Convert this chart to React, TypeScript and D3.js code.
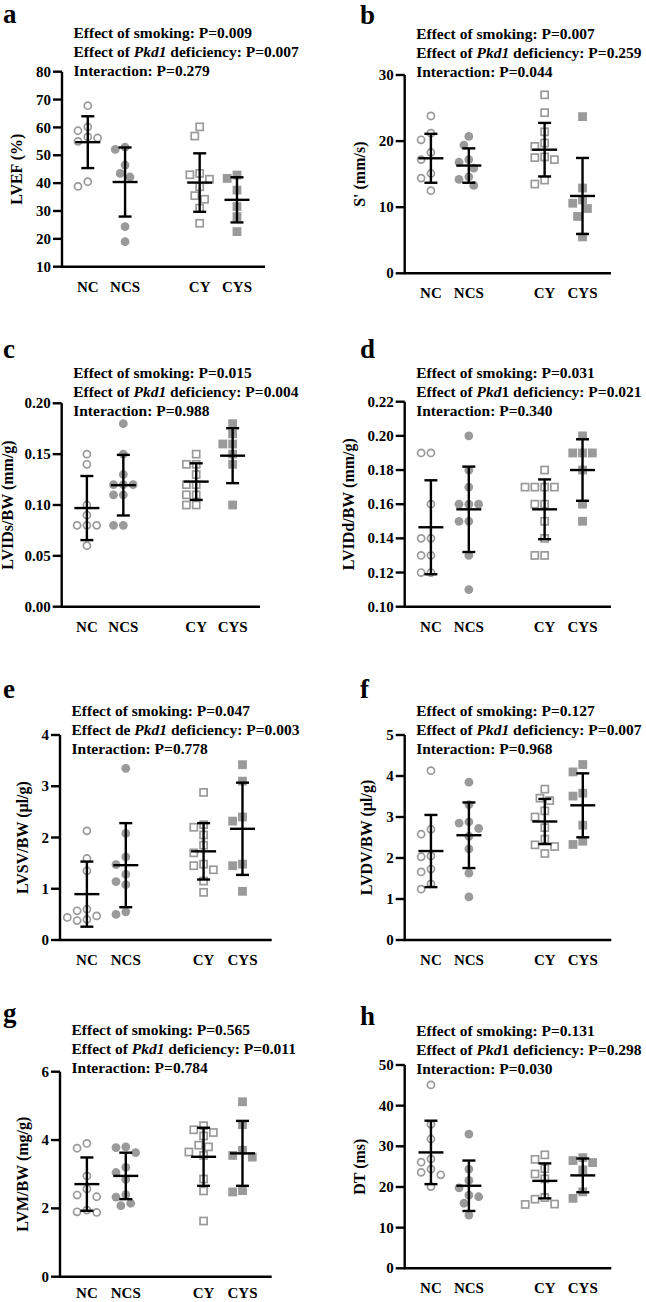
import React from "react";
import * as d3 from "d3";

const FONT = '"Liberation Serif", "Times New Roman", serif';
const GRAY = "#9a9a9a";

const groups = ["NC", "NCS", "CY", "CYS"];
// slot index of each group on the x axis (gap between the two pairs)
const groupSlots = [0, 1, 3, 4];

// a: LVEF (%)
const lvefNC = [67.8, 60.2, 58.8, 56.6, 56.2, 55.0, 40.5, 38.8];
const lvefNCS = [52.9, 52.1, 46.5, 43.5, 42.2, 24.4, 19.0];
const lvefCY = [60.2, 56.9, 43.5, 43.0, 41.4, 38.7, 35.5, 34.2, 31.0, 25.6];
const lvefCYS = [42.9, 41.7, 37.5, 31.6, 28.0, 22.6];
const lvefMean = [54.7, 40.4, 40.2, 34.0];
const lvefSd = [9.3, 12.4, 10.5, 8.1];

// b: S' (mm/s)
const sNC = [23.8, 21.2, 20.2, 18.3, 17.2, 15.1, 14.4, 12.5];
const sNCS = [20.7, 19.4, 17.2, 16.8, 15.9, 14.6, 14.2, 13.3];
const sCY = [27.0, 24.3, 21.4, 19.7, 19.2, 17.6, 17.5, 17.2, 14.1, 13.5];
const sCYS = [23.7, 12.9, 11.1, 10.6, 9.8, 8.6, 5.5];
const sMean = [17.4, 16.3, 18.7, 11.7];
const sSd = [3.7, 2.6, 4.05, 5.75];

// c: LVIDs/BW (mm/g)
const lvidsNC = [0.15, 0.14, 0.10, 0.09, 0.08, 0.08, 0.08, 0.06];
const lvidsNCS = [0.18, 0.15, 0.13, 0.12, 0.12, 0.12, 0.11, 0.11, 0.08, 0.08];
const lvidsCY = [0.15, 0.14, 0.14, 0.13, 0.12, 0.12, 0.11, 0.11, 0.10, 0.10];
const lvidsCYS = [0.18, 0.17, 0.16, 0.16, 0.15, 0.14, 0.10];
const lvidsMean = [0.097, 0.1195, 0.123, 0.1485];
const lvidsSd = [0.0315, 0.0298, 0.018, 0.027];

// d: LVIDd/BW (mm/g)
const lviddNC = [0.19, 0.19, 0.16, 0.14, 0.14, 0.13, 0.13, 0.12, 0.12];
const lviddNCS = [0.20, 0.18, 0.17, 0.16, 0.16, 0.16, 0.15, 0.15, 0.13, 0.11];
const lviddCY = [0.18, 0.17, 0.17, 0.17, 0.17, 0.16, 0.16, 0.15, 0.14, 0.13, 0.13];
const lviddCYS = [0.20, 0.19, 0.19, 0.19, 0.18, 0.16, 0.15];
const lviddMean = [0.1465, 0.157, 0.157, 0.18];
const lviddSd = [0.0275, 0.025, 0.0175, 0.018];

// e: LVSV/BW (µl/g)
const lvsvNC = [2.13, 1.59, 1.35, 0.60, 0.57, 0.47, 0.44, 0.40, 0.38];
const lvsvNCS = [3.35, 2.08, 1.62, 1.47, 1.28, 1.14, 1.08, 0.55, 0.50];
const lvsvCY = [2.88, 2.25, 2.20, 2.05, 1.85, 1.70, 1.48, 1.45, 1.37, 1.15, 0.93];
const lvsvCYS = [3.42, 3.10, 2.40, 2.32, 1.48, 1.45, 0.95];
const lvsvMean = [0.895, 1.46, 1.73, 2.17];
const lvsvSd = [0.635, 0.82, 0.55, 0.9];

// f: LVDV/BW (µl/g)
const lvdvNC = [4.13, 2.70, 2.58, 2.05, 2.03, 1.73, 1.66, 1.37, 1.24];
const lvdvNCS = [3.85, 3.30, 2.88, 2.85, 2.72, 2.53, 2.22, 1.63, 1.05];
const lvdvCY = [3.68, 3.46, 3.40, 3.15, 3.00, 2.74, 2.46, 2.32, 2.28, 2.11];
const lvdvCYS = [4.28, 4.10, 3.58, 3.51, 2.80, 2.41, 2.33];
const lvdvMean = [2.17, 2.555, 2.89, 3.285];
const lvdvSd = [0.88, 0.8, 0.55, 0.78];

// g: LVM/BW (mg/g)
const lvmNC = [3.90, 3.76, 2.95, 2.57, 2.39, 2.34, 1.95, 1.90, 1.88];
const lvmNCS = [3.80, 3.78, 3.63, 3.20, 3.05, 2.85, 2.40, 2.33, 2.15, 2.08];
const lvmCY = [4.42, 4.30, 4.22, 4.12, 3.85, 3.80, 3.65, 3.55, 2.86, 2.51, 1.63];
const lvmCYS = [5.12, 4.45, 3.70, 3.55, 3.50, 2.52, 2.48];
const lvmMean = [2.71, 2.95, 3.51, 3.61];
const lvmSd = [0.78, 0.68, 0.85, 0.95];

// h: DT (ms)
const dtNC = [45.1, 35.4, 31.8, 26.9, 26.1, 24.4, 23.6, 23.0, 20.1];
const dtNCS = [33.0, 24.4, 21.6, 19.8, 18.0, 17.6, 16.0, 13.1];
const dtCY = [27.9, 26.8, 24.5, 23.2, 22.0, 17.4, 17.0, 15.8, 15.7];
const dtCYS = [27.2, 26.5, 26.0, 24.2, 18.8, 17.2];
const dtMean = [28.5, 20.3, 21.5, 22.85];
const dtSd = [7.8, 6.2, 4.3, 4.15];

// two-way ANOVA p values: smoking, Pkd1, interaction
const panelLetters = ["a", "b", "c", "d", "e", "f", "g", "h"];
const yTitles = ["LVEF (%)", "S' (mm/s)", "LVIDs/BW (mm/g)", "LVIDd/BW (mm/g)", "LVSV/BW (µl/g)", "LVDV/BW (µl/g)", "LVM/BW (mg/g)", "DT (ms)"];
const pSmoking = ["0.009", "0.007", "0.015", "0.031", "0.047", "0.127", "0.565", "0.131"];
const pPkd = ["0.007", "0.259", "0.004", "0.021", "0.003", "0.007", "0.011", "0.298"];
const pInteraction = ["0.279", "0.044", "0.988", "0.340", "0.778", "0.968", "0.784", "0.030"];
const pkdPrefix = ["Effect of ", "Effect of ", "Effect of ", "Effect of ", "Effect de ", "Effect of ", "Effect of ", "Effect of "];
const pkdItalic = ["Pkd1", "Pkd1", "Pkd1", "Pkd", "Pkd1", "Pkd1", "Pkd1", "Pkd"];
const pkdPlain = ["", "", "", "1", "", "", "", "1"];

const yDomains = [[10, 80], [0, 30], [0, 0.2], [0.1, 0.22], [0, 4], [0, 5], [0, 6], [0, 50]];
const yTicks = [
  [10, 20, 30, 40, 50, 60, 70, 80],
  [0, 10, 20, 30],
  [0, 0.05, 0.1, 0.15, 0.2],
  [0.1, 0.12, 0.14, 0.16, 0.18, 0.2, 0.22],
  [0, 1, 2, 3, 4],
  [0, 1, 2, 3, 4, 5],
  [0, 2, 4, 6],
  [0, 10, 20, 30, 40, 50],
];
const tickFormats = ["d", "d", ".2f", ".2f", "d", "d", "d", "d"];

const values = [
  [lvefNC, lvefNCS, lvefCY, lvefCYS],
  [sNC, sNCS, sCY, sCYS],
  [lvidsNC, lvidsNCS, lvidsCY, lvidsCYS],
  [lviddNC, lviddNCS, lviddCY, lviddCYS],
  [lvsvNC, lvsvNCS, lvsvCY, lvsvCYS],
  [lvdvNC, lvdvNCS, lvdvCY, lvdvCYS],
  [lvmNC, lvmNCS, lvmCY, lvmCYS],
  [dtNC, dtNCS, dtCY, dtCYS],
];
const means = [lvefMean, sMean, lvidsMean, lviddMean, lvsvMean, lvdvMean, lvmMean, dtMean];
const sds = [lvefSd, sSd, lvidsSd, lviddSd, lvsvSd, lvdvSd, lvmSd, dtSd];

// layout: [axis x, axis right end, y of top tick, y of bottom]
const frames = [
  [62, 265, 71.7, 266.7],
  [404.7, 611, 75, 273.3],
  [61.7, 260, 403.3, 606.7],
  [404.7, 611, 401.7, 606.7],
  [60, 271.7, 735, 940],
  [404.7, 611.3, 735, 940],
  [60, 271.7, 1071.7, 1276.7],
  [404.7, 611.3, 1065, 1268.3],
];
const letterY = [23, 24, 358, 358, 698, 698, 1022, 1025];
const noteY = [37.5, 39, 377.5, 377.5, 716, 716, 1034.5, 1035.5];

const R = 4.4;

function swarm(ys: number[]): number[] {
  const placed: { x: number; y: number }[] = [];
  const xs = new Array(ys.length).fill(0);
  const order = ys.map((_, i) => i).sort((a, b) => ys[a] - ys[b]);
  const step = R + 0.5;
  for (const i of order) {
    const y = ys[i];
    for (let k = 0; k < 30; k++) {
      const cands = k === 0 ? [0] : [-k * step, k * step];
      const ok = cands.find((c) => placed.every((p) => Math.hypot(p.x - c, p.y - y) >= 2 * R + 0.6));
      if (ok !== undefined) {
        xs[i] = ok;
        placed.push({ x: ok, y });
        break;
      }
    }
  }
  return xs;
}

function Marker({ g, x, y }: { g: number; x: number; y: number }) {
  if (g === 0) return <circle cx={x} cy={y} r={R - 0.85} fill="white" stroke={GRAY} strokeWidth={1.7} />;
  if (g === 1) return <circle cx={x} cy={y} r={R} fill={GRAY} />;
  if (g === 2) return <rect x={x - R + 0.85} y={y - R + 0.85} width={2 * R - 1.7} height={2 * R - 1.7} fill="white" stroke={GRAY} strokeWidth={1.7} />;
  return <rect x={x - R} y={y - R} width={2 * R} height={2 * R} fill={GRAY} />;
}

function Panel({ i }: { i: number }) {
  const [x0, x1, yTop, yBot] = frames[i];
  const y = d3.scaleLinear().domain(yDomains[i]).range([yBot, yTop]);
  const w = x1 - x0;
  const x = d3.scaleLinear().domain([0, 4]).range([x0 + 0.127 * w, x0 + 0.862 * w]);
  const fmt = d3.format(tickFormats[i]);
  const tickW = d3.max(yTicks[i], (t) => fmt(t).split("").reduce((s, c) => s + (c === "." ? 0.25 : 0.5), 0) * 15) as number;
  const titleX = Math.max(x0 - 11 - tickW - 12 - 7, 7.5);
  const titleY = (yTop + yBot) / 2;
  const letterX = i % 2 === 0 ? 3 : 360;
  const noteX = x0 + 11.5;
  const catY = Math.min(yBot + 25, 1298);

  return (
    <g fontFamily={FONT} fontWeight="bold" fill="black">
      <text x={letterX} y={letterY[i]} fontSize={27}>{panelLetters[i]}</text>
      <text x={noteX} y={noteY[i]} fontSize={15.5}>Effect of smoking: P={pSmoking[i]}</text>
      <text x={noteX} y={noteY[i] + 19} fontSize={15.5}>
        {pkdPrefix[i]}
        <tspan fontStyle="italic">{pkdItalic[i]}</tspan>
        {pkdPlain[i]} deficiency: P={pPkd[i]}
      </text>
      <text x={noteX} y={noteY[i] + 38} fontSize={15.5}>Interaction: P={pInteraction[i]}</text>

      {/* points */}
      {values[i].map((vals, g) => {
        const ys = vals.map((v) => y(v));
        const xs = swarm(ys);
        const cx = x(groupSlots[g]);
        return (
          <g key={g}>
            {vals.map((_, k) => (
              <Marker key={k} g={g} x={cx + xs[k]} y={ys[k]} />
            ))}
          </g>
        );
      })}

      {/* mean ± SD */}
      {means[i].map((m, g) => {
        const cx = x(groupSlots[g]);
        const hi = y(m + sds[i][g]);
        const lo = y(m - sds[i][g]);
        return (
          <g key={g} stroke="black" strokeWidth={2.4} fill="none">
            <line x1={cx} x2={cx} y1={hi} y2={lo} />
            <line x1={cx - 6.5} x2={cx + 6.5} y1={hi} y2={hi} />
            <line x1={cx - 6.5} x2={cx + 6.5} y1={lo} y2={lo} />
            <line x1={cx - 12.5} x2={cx + 12.5} y1={y(m)} y2={y(m)} />
          </g>
        );
      })}

      {/* axes */}
      <path d={`M${x0},${yTop}V${yBot}H${x1}`} fill="none" stroke="black" strokeWidth={2.4} />
      {yTicks[i].map((t) => (
        <g key={t}>
          <line x1={x0 - 9} x2={x0} y1={y(t)} y2={y(t)} stroke="black" strokeWidth={2.4} />
          <text x={x0 - 11} y={y(t)} dy="0.34em" textAnchor="end" fontSize={15}>{fmt(t)}</text>
        </g>
      ))}
      {groups.map((name, g) => (
        <text key={name} x={x(groupSlots[g])} y={catY} textAnchor="middle" fontSize={15}>{name}</text>
      ))}
      <text transform={`translate(${titleX},${titleY}) rotate(-90)`} textAnchor="middle" dy="0.33em" fontSize={16}>
        {yTitles[i]}
      </text>
    </g>
  );
}

export default function App() {
  return (
    <svg width={646} height={1302} style={{ position: "absolute", left: 0, top: 0, background: "white" }}>
      <rect width={646} height={1302} fill="white" />
      {panelLetters.map((_, i) => (
        <Panel key={i} i={i} />
      ))}
    </svg>
  );
}
